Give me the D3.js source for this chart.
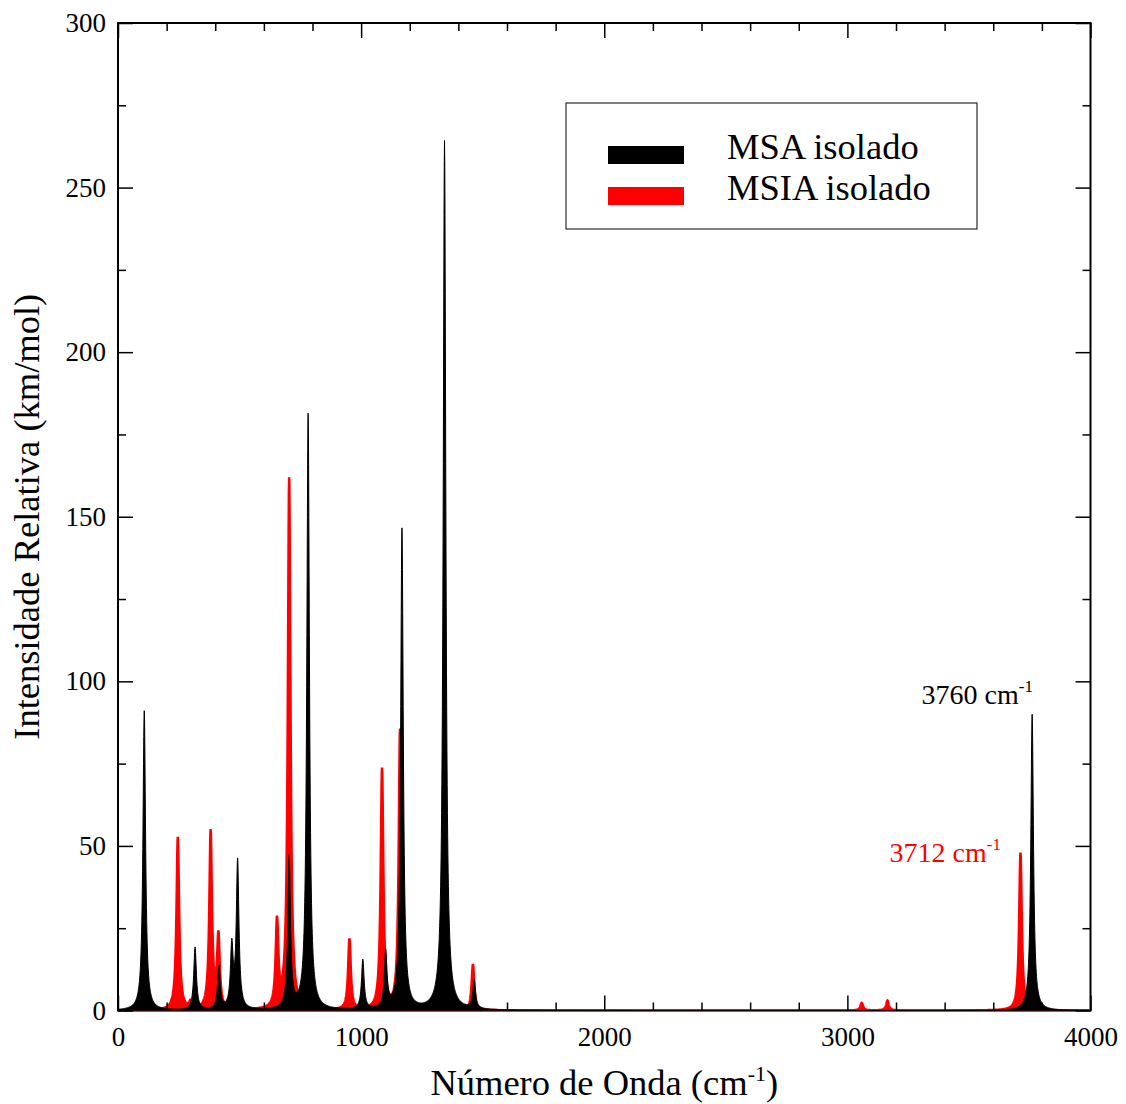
<!DOCTYPE html>
<html>
<head>
<meta charset="utf-8">
<script src="https://cdn.jsdelivr.net/npm/d3@7"></script>
<style>
  html, body { margin: 0; padding: 0; background: #fff; }
  svg { display: block; font-family: "Liberation Serif", "Times New Roman", serif; }
</style>
</head>
<body>
<svg id="chart" width="1126" height="1104"></svg>
<script>
// Calculated IR band positions (cm^-1) and intensities (km/mol)
const msaFreq = [108, 317, 415, 468, 492, 704, 782, 1007, 1101, 1168, 1343, 1465, 3760];
const msaInt  = [91, 19, 13, 18.5, 44.8, 46, 181, 15, 17, 146, 264, 8.6, 90];

const msiaFreq = [246, 298, 381, 413, 654, 704, 952, 1086, 1160, 1460, 3059, 3165, 3712];
const msiaInt  = [52.5, 2, 54, 22, 26, 161.5, 21.5, 73, 85, 14, 2.3, 3, 48];

// Lorentzian half width at half maximum used for broadening (cm^-1)
const hwhm = 6.5;

const seriesNames = ["MSA isolado", "MSIA isolado"];
const seriesColors = ["#000000", "#ff0000"];

const xTicks = [0, 1000, 2000, 3000, 4000];
const yTicks = [0, 50, 100, 150, 200, 250, 300];

const xTitle = "Número de Onda (cm";
const yTitle = "Intensidade Relativa (km/mol)";

// Broadened spectrum from a list of bands
function spectrum(freqs, ints) {
  const pts = [];
  for (let w = 0; w <= 4000; w += 1) {
    let s = 0;
    for (let i = 0; i < freqs.length; i++) {
      const d = w - freqs[i];
      s += ints[i] * hwhm * hwhm / (d * d + hwhm * hwhm);
    }
    pts.push([w, s]);
  }
  return pts;
}

const svg = d3.select("#chart");
const pLeft = 118, pRight = 1090.5, pTop = 23, pBottom = 1010.5;

const x = d3.scaleLinear().domain([0, 4000]).range([pLeft, pRight]);
const y = d3.scaleLinear().domain([0, 300]).range([pBottom, pTop]);

// Frame
svg.append("rect").attr("x", pLeft).attr("y", pTop)
  .attr("width", pRight - pLeft).attr("height", pBottom - pTop)
  .attr("fill", "none").attr("stroke", "#000").attr("stroke-width", 2);

svg.append("defs").append("clipPath").attr("id", "plotclip")
  .append("rect").attr("x", pLeft + 1).attr("y", pTop + 1)
  .attr("width", pRight - pLeft - 2).attr("height", pBottom - pTop);

const area = d3.area()
  .x(d => x(d[0])).y0(y(0)).y1(d => y(d[1]));

const plot = svg.append("g").attr("clip-path", "url(#plotclip)");

// MSIA first, MSA drawn over it
const msia = spectrum(msiaFreq, msiaInt);
const msa = spectrum(msaFreq, msaInt);

plot.append("path").datum(msia)
  .attr("d", area).attr("fill", seriesColors[1])
  .attr("stroke", seriesColors[1]).attr("stroke-width", 2.5);
plot.append("path").datum(msa)
  .attr("d", area).attr("fill", seriesColors[0])
  .attr("stroke", seriesColors[0]).attr("stroke-width", 1);

// Axes with inward ticks on all four sides
const fontSize = 27;
function styleAxis(g) {
  g.select(".domain").remove();
  g.selectAll(".tick line").attr("stroke", "#000").attr("stroke-width", 1.5);
  g.selectAll(".tick text").attr("font-size", fontSize).attr("fill", "#000")
    .attr("font-family", "Liberation Serif, Times New Roman, serif");
}
const xMinor = d3.range(0, 4001, 200).filter(v => v % 1000 !== 0);
const yMinor = d3.range(0, 301, 25).filter(v => v % 50 !== 0);

svg.append("g").attr("transform", `translate(0,${pBottom})`)
  .call(d3.axisBottom(x).tickValues(xTicks).tickSize(-15).tickPadding(16).tickFormat(d3.format("d")))
  .call(styleAxis);
svg.append("g").attr("transform", `translate(0,${pBottom})`)
  .call(d3.axisBottom(x).tickValues(xMinor).tickSize(-8).tickFormat(""))
  .call(styleAxis);
svg.append("g").attr("transform", `translate(0,${pTop})`)
  .call(d3.axisTop(x).tickValues(xTicks).tickSize(-15).tickFormat(""))
  .call(styleAxis);
svg.append("g").attr("transform", `translate(0,${pTop})`)
  .call(d3.axisTop(x).tickValues(xMinor).tickSize(-8).tickFormat(""))
  .call(styleAxis);

svg.append("g").attr("transform", `translate(${pLeft},0)`)
  .call(d3.axisLeft(y).tickValues(yTicks).tickSize(-15).tickPadding(12).tickFormat(d3.format("d")))
  .call(styleAxis);
svg.append("g").attr("transform", `translate(${pLeft},0)`)
  .call(d3.axisLeft(y).tickValues(yMinor).tickSize(-8).tickFormat(""))
  .call(styleAxis);
svg.append("g").attr("transform", `translate(${pRight},0)`)
  .call(d3.axisRight(y).tickValues(yTicks).tickSize(-15).tickFormat(""))
  .call(styleAxis);
svg.append("g").attr("transform", `translate(${pRight},0)`)
  .call(d3.axisRight(y).tickValues(yMinor).tickSize(-8).tickFormat(""))
  .call(styleAxis);

// Axis titles
const titleSize = 36.5;
const xt = svg.append("text").attr("x", (pLeft + pRight) / 2).attr("y", 1095)
  .attr("text-anchor", "middle").attr("font-size", titleSize);
xt.append("tspan").text(xTitle);
xt.append("tspan").attr("font-size", 22).attr("dy", -14).text("-1");
xt.append("tspan").attr("dy", 14).text(")");

svg.append("text")
  .attr("transform", `translate(39,${(pTop + pBottom) / 2}) rotate(-90)`)
  .attr("text-anchor", "middle").attr("font-size", titleSize)
  .text(yTitle);

// Legend
const lg = svg.append("g");
lg.append("rect").attr("x", 566).attr("y", 103).attr("width", 411).attr("height", 126)
  .attr("fill", "#fff").attr("stroke", "#000").attr("stroke-width", 1);
seriesNames.forEach((name, i) => {
  const yy = 155 + i * 41;
  lg.append("rect").attr("x", 608).attr("y", yy - 9).attr("width", 76).attr("height", 18)
    .attr("fill", seriesColors[i]);
  lg.append("text").attr("x", 727).attr("y", yy + 4).attr("font-size", titleSize)
    .attr("fill", "#000").text(name);
});

// Band labels
function bandLabel(freq, color, tx, ty) {
  const t = svg.append("text").attr("x", tx).attr("y", ty)
    .attr("text-anchor", "end").attr("font-size", 28).attr("fill", color);
  t.append("tspan").text(freq + " cm");
  t.append("tspan").attr("font-size", 17).attr("dy", -12).text("-1");
}
bandLabel(msaFreq[12], "#000", 1033, 704);
bandLabel(msiaFreq[12], "#ff0000", 1001, 862);
</script>
</body>
</html>
